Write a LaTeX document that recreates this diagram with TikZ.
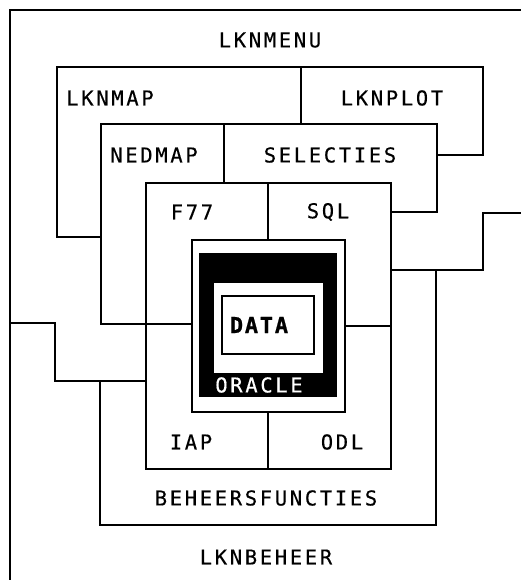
\documentclass[tikz,border=0pt]{standalone}
\usepackage{fontspec}
\newfontfamily\plotfont{DejaVu Sans Mono}[LetterSpace=13,FakeBold=0.3]
\newfontfamily\plotfontb{DejaVu Sans Mono Bold}[LetterSpace=8,FakeBold=0.8]
\begin{document}
\begin{tikzpicture}[x=1pt,y=-1pt,line width=1.8pt,line cap=rect,
  lbl/.style={font=\plotfont\fontsize{20.5}{20.5}\selectfont,inner sep=0pt,anchor=center}]
\useasboundingbox (0,0) rectangle (521,580);
% outer frame (LKNMENU / LKNBEHEER)
\draw (10,580) -- (10,10) -- (521,10);
% LKNMAP / LKNPLOT
\draw (101,237) -- (57,237) -- (57,67) -- (483,67) -- (483,155) -- (437,155);
\draw (301,67) -- (301,124);
% NEDMAP / SELECTIES
\draw (192,324) -- (101,324) -- (101,124) -- (437,124) -- (437,212) -- (391,212);
\draw (224,124) -- (224,183);
% F77 / SQL / IAP / ODL
\draw (146,183) rectangle (391,469);
\draw (268,183) -- (268,240);
\draw (268,412) -- (268,469);
\draw (345,326) -- (391,326);
% LKNMENU / LKNBEHEER boundary
\draw (10,323) -- (55,323) -- (55,381) -- (146,381);
\draw (391,270) -- (483,270) -- (483,213) -- (521,213);
% BEHEERSFUNCTIES
\draw (100,381) -- (100,525) -- (436,525) -- (436,270);
% ORACLE / DATA
\draw[fill=white] (192,240) rectangle (345,412);
\fill (199,253) rectangle (337,397);
\fill[white] (214,283) rectangle (323,373);
\draw (222,296) rectangle (314,354);
% labels
\node[lbl] (lknmenu) at (270,40) {LKNMENU};
\node[lbl] (lknmap) at (110,98) {LKNMAP};
\node[lbl] (lknplot) at (392,98) {LKNPLOT};
\node[lbl] (nedmap) at (154,155) {NEDMAP};
\node[lbl] (selecties) at (330,155) {SELECTIES};
\node[lbl] (f77) at (192,212) {F77};
\node[lbl] (sql) at (328,212) {SQL};
\node[lbl] (iap) at (191,442) {IAP};
\node[lbl] (odl) at (342,442) {ODL};
\node[lbl] (beheersfuncties) at (266,498) {BEHEERSFUNCTIES};
\node[lbl] (lknbeheer) at (266,557) {LKNBEHEER};
\node[lbl,font=\plotfontb\fontsize{22}{22}\selectfont] (data) at (259,325) {DATA};
\node[lbl,text=white] (oracle) at (259,385) {ORACLE};
\end{tikzpicture}
\end{document}
